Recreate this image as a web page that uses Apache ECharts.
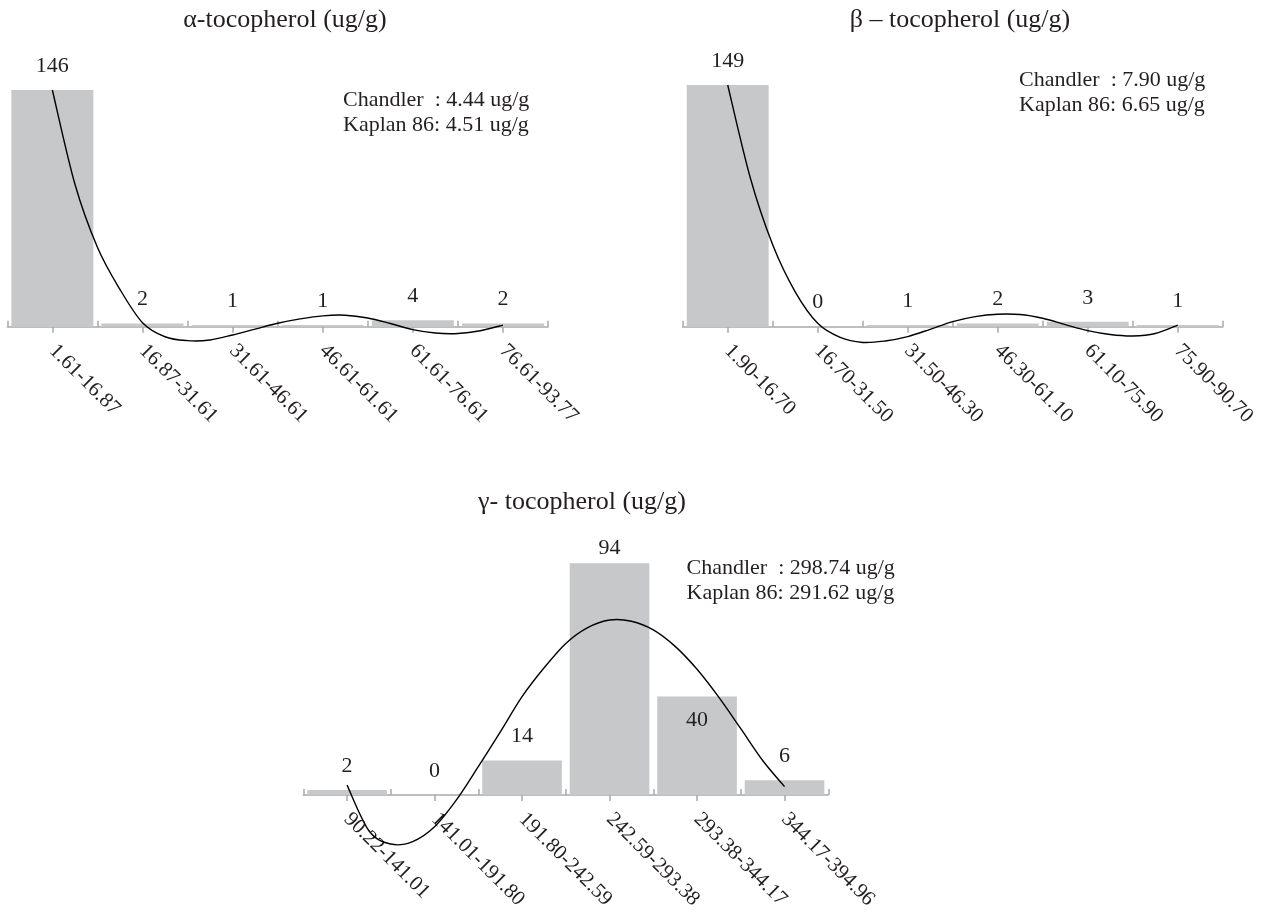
<!DOCTYPE html>
<html>
<head>
<meta charset="utf-8">
<script src="https://cdn.jsdelivr.net/npm/echarts@6/dist/echarts.min.js"></script>
<style>
html,body{margin:0;padding:0;background:#fff;}
#main{width:1274px;height:920px;}
</style>
</head>
<body>
<div id="main"></div>
<script>
// ---------- data ----------
const alphaTitle = 'α-tocopherol (ug/g)';
const betaTitle = 'β – tocopherol (ug/g)';
const gammaTitle = 'γ- tocopherol (ug/g)';

const alphaCategories = ['1.61-16.87','16.87-31.61','31.61-46.61','46.61-61.61','61.61-76.61','76.61-93.77'];
const betaCategories = ['1.90-16.70','16.70-31.50','31.50-46.30','46.30-61.10','61.10-75.90','75.90-90.70'];
const gammaCategories = ['90.22-141.01','141.01-191.80','191.80-242.59','242.59-293.38','293.38-344.17','344.17-394.96'];

const alphaCounts = [146, 2, 1, 1, 4, 2];
const betaCounts = [149, 0, 1, 2, 3, 1];
const gammaCounts = [2, 0, 14, 94, 40, 6];

const alphaNotes = ['Chandler  : 4.44 ug/g', 'Kaplan 86: 4.51 ug/g'];
const betaNotes = ['Chandler  : 7.90 ug/g', 'Kaplan 86: 6.65 ug/g'];
const gammaNotes = ['Chandler  : 298.74 ug/g', 'Kaplan 86: 291.62 ug/g'];

// trend curves: [position in category units, count]
const alphaCurve = [[0.5,146],[0.75,88],[1.0,49],[1.25,23],[1.5,2.5],[1.75,-6.2],[2.0,-8.6],[2.25,-8.2],[2.5,-5.1],[2.75,-1.5],[3.0,2.1],[3.25,4.8],[3.5,6.7],[3.75,7.1],[4.0,5.4],[4.25,2],[4.5,-1.8],[4.75,-3.9],[5.0,-4.2],[5.25,-2.5],[5.5,1.0]];
const betaCurve = [[0.5,149],[0.75,92],[1.0,50.5],[1.25,21.5],[1.5,2.1],[1.75,-6.6],[2.0,-9.7],[2.25,-8.8],[2.5,-6.1],[2.75,-1.6],[3.0,3.1],[3.25,6.2],[3.5,7.7],[3.75,7.5],[4.0,5.2],[4.25,1.3],[4.5,-2.4],[4.75,-4.8],[5.0,-5.7],[5.25,-4.2],[5.5,1.0]];
const gammaCurve = [[0.5,4],[0.75,-14.5],[1.0,-19.9],[1.25,-18.9],[1.5,-12.9],[1.75,-2],[2.0,11.5],[2.25,25.5],[2.5,39.9],[2.75,51.5],[3.0,61.5],[3.25,67.9],[3.5,71],[3.75,70.5],[4.0,67],[4.25,60.3],[4.5,51],[4.75,39.6],[5.0,26.9],[5.25,14],[5.5,3.4]];

// ---------- layout / style ----------
const FONT = '"Liberation Serif", "Times New Roman", serif';
const TEXT = '#231f20';
const AXIS = '#a7a9ac';
const BAR = '#c7c8ca';

const panels = [
  {title: alphaTitle, cats: alphaCategories, counts: alphaCounts, notes: alphaNotes, curve: alphaCurve,
   grid: {left: 7.3, top: 83.5, width: 540.7, height: 243.2}, yMax: 150,
   titlePos: [285, 20], notePos: [343, 87.5], labelOverrides: {}},
  {title: betaTitle, cats: betaCategories, counts: betaCounts, notes: betaNotes, curve: betaCurve,
   grid: {left: 682.7, top: 83.4, width: 540, height: 243.3}, yMax: 150,
   titlePos: [960, 20], notePos: [1019, 67.5], labelOverrides: {}},
  {title: gammaTitle, cats: gammaCategories, counts: gammaCounts, notes: gammaNotes, curve: gammaCurve,
   grid: {left: 303.3, top: 548.5, width: 525, height: 246.5}, yMax: 100,
   titlePos: [582, 502], notePos: [686.5, 555.5],
   labelOverrides: {3: {distance: 4}, 4: {position: 'insideTop', distance: 13}}}
];

// smooth curve through all points of the series (Catmull-Rom -> cubic Bezier),
// every point placed through the chart's own coordinate system
function renderCurve(params, api) {
  if (params.dataIndexInside !== 0) return null;
  const n = params.dataInsideLength;
  const pts = [];
  for (let i = 0; i < n; i++) pts.push(api.coord([api.value(0, i), api.value(1, i)]));
  let d = 'M' + pts[0][0] + ' ' + pts[0][1];
  for (let i = 0; i < n - 1; i++) {
    const p0 = pts[Math.max(i - 1, 0)], p1 = pts[i], p2 = pts[i + 1], p3 = pts[Math.min(i + 2, n - 1)];
    const c1x = p1[0] + (p2[0] - p0[0]) / 6, c1y = p1[1] + (p2[1] - p0[1]) / 6;
    const c2x = p2[0] - (p3[0] - p1[0]) / 6, c2y = p2[1] - (p3[1] - p1[1]) / 6;
    d += ' C' + c1x + ' ' + c1y + ' ' + c2x + ' ' + c2y + ' ' + p2[0] + ' ' + p2[1];
  }
  return {type: 'path', shape: {pathData: d},
          style: {fill: null, stroke: '#000', lineWidth: 1.4}, silent: true};
}

const grids = [], xAxes = [], yAxes = [], series = [], graphics = [];

panels.forEach((p, k) => {
  grids.push(Object.assign({outerBoundsMode: 'none', containLabel: false}, p.grid));
  // labelled axis with centre ticks
  xAxes.push({
    type: 'category', gridIndex: k, data: p.cats, position: 'bottom',
    axisLine: {show: true, onZero: false, lineStyle: {color: AXIS, width: 1.5}},
    axisTick: {show: true, alignWithLabel: true, length: 6, lineStyle: {color: AXIS, width: 1.5}},
    axisLabel: {interval: 0, rotate: -45, margin: 21, fontSize: 21, fontFamily: FONT, color: TEXT},
    splitLine: {show: false}
  });
  // boundary ticks pointing up
  xAxes.push({
    type: 'category', gridIndex: k, data: p.cats, position: 'bottom',
    axisLine: {show: false, onZero: false},
    axisTick: {show: true, inside: true, interval: 0, length: 6, lineStyle: {color: AXIS, width: 1.5}},
    axisLabel: {show: false}, splitLine: {show: false}
  });
  // hidden value axis for the trend curve
  xAxes.push({type: 'value', gridIndex: k, min: 0, max: 6, show: false, splitLine: {show: false}});
  yAxes.push({type: 'value', gridIndex: k, min: 0, max: p.yMax, show: false, splitLine: {show: false}});

  series.push({
    type: 'bar', xAxisIndex: 3 * k, yAxisIndex: k, barCategoryGap: '9%',
    itemStyle: {color: BAR},
    label: {show: true, position: 'top', distance: 13, fontSize: 22, fontFamily: FONT, color: TEXT},
    data: p.counts.map((v, i) => p.labelOverrides[i] ? {value: v, label: p.labelOverrides[i]} : v),
    silent: true, z: 2
  });
  series.push({
    type: 'custom', xAxisIndex: 3 * k + 2, yAxisIndex: k, clip: false,
    renderItem: renderCurve, data: p.curve, silent: true, z: 3
  });

  graphics.push({
    type: 'text', x: p.titlePos[0], y: p.titlePos[1],
    style: {text: p.title, font: '26px ' + FONT, fill: TEXT, align: 'center', verticalAlign: 'middle',
            textAlign: 'center', textVerticalAlign: 'middle'}
  });
  graphics.push({
    type: 'text', x: p.notePos[0], y: p.notePos[1],
    style: {text: p.notes.join('\n'), font: '22px ' + FONT, lineHeight: 25, fill: TEXT,
            align: 'left', verticalAlign: 'top', textAlign: 'left', textVerticalAlign: 'top'}
  });
});

const chart = echarts.init(document.getElementById('main'), null, {renderer: 'canvas'});
chart.setOption({
  animation: false,
  backgroundColor: '#fff',
  grid: grids, xAxis: xAxes, yAxis: yAxes, series: series, graphic: graphics
});
</script>
</body>
</html>
